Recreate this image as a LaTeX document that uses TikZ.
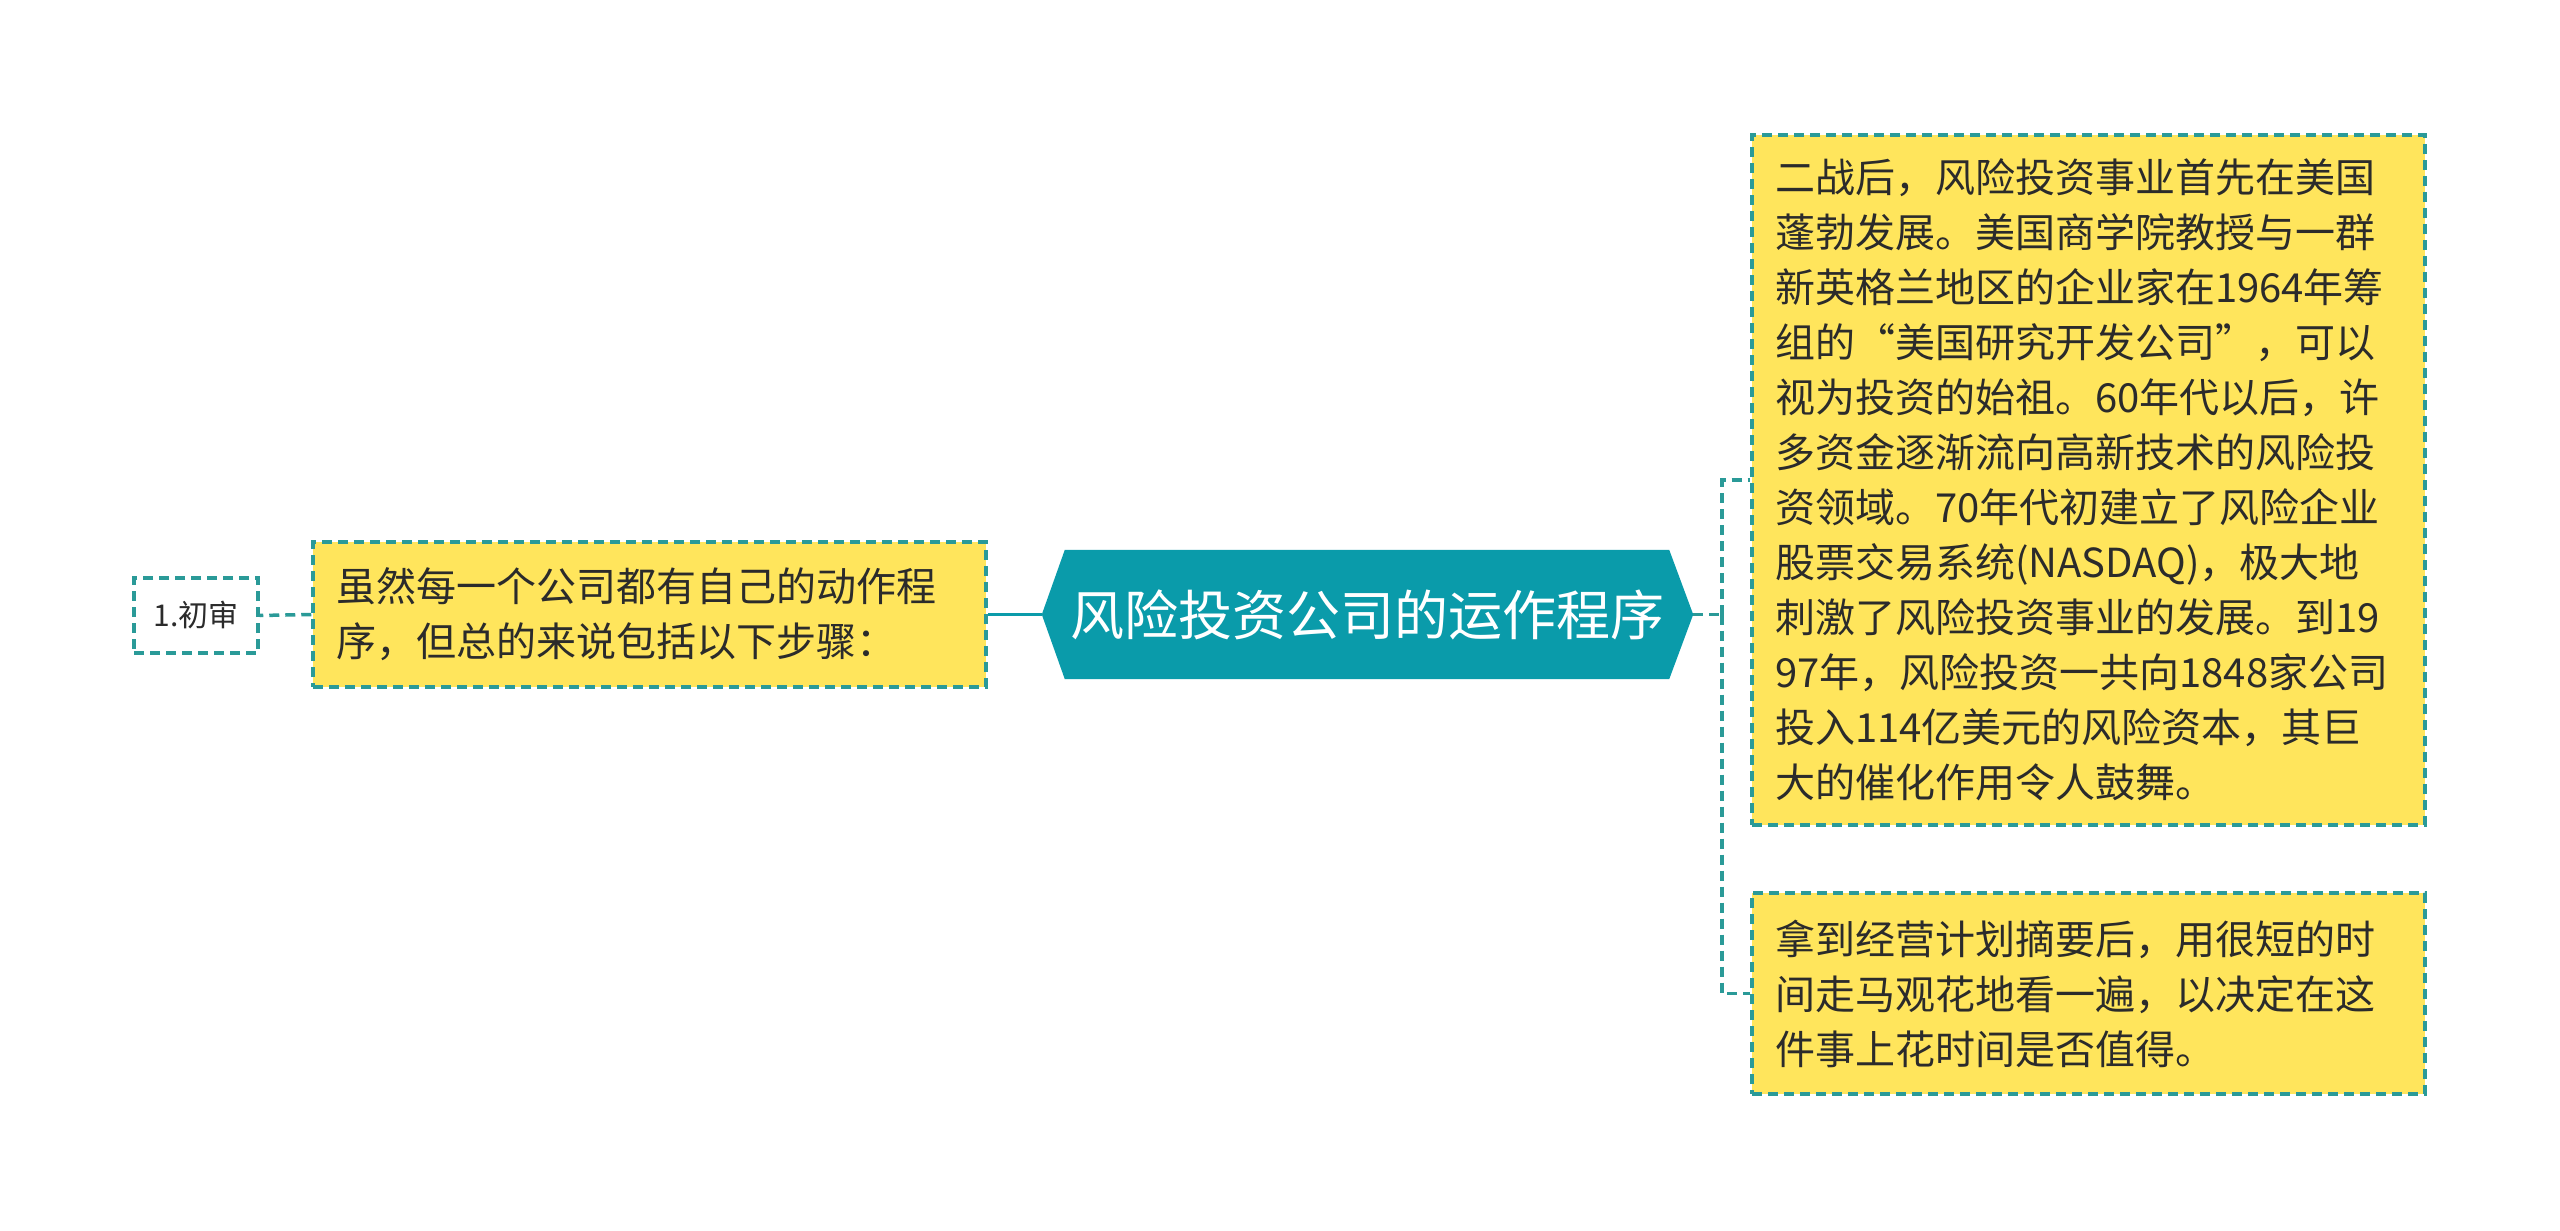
\documentclass[tikz,border=0pt]{standalone}
\usepackage{fontspec}
\setmainfont{Noto Sans CJK SC}
\usetikzlibrary{backgrounds}
\definecolor{teal1}{HTML}{0A9BAA}
\definecolor{dashc}{HTML}{2A9A98}
\definecolor{yel}{HTML}{FFE55C}
\definecolor{txt}{HTML}{2B2B2B}
\begin{document}
\begin{tikzpicture}[x=1pt,y=-1pt,
  box/.style={draw=dashc, line width=3.5pt, dash pattern=on 10pt off 6pt, fill=yel, inner sep=0pt,
    font=\fontsize{40}{55}\selectfont, text=txt, align=left, text width=627pt},
  conn/.style={draw=dashc, line width=3.5pt, dash pattern=on 10pt off 6pt}]
\useasboundingbox (0,0) rectangle (2560,1231);

% root
\node[font=\fontsize{54}{60}\selectfont, text=white, minimum width=604pt, minimum height=129pt, inner sep=0pt] (root) at (1367,614.5) {风险投资公司的运作程序};
\coordinate (rootL) at ([xshift=-23pt]root.west);
\coordinate (rootR) at ([xshift=24pt]root.east);
\begin{scope}[on background layer]
\fill[white] (0,0) rectangle (2560,1231);
\fill[teal1] (root.north west) -- (root.north east) -- (rootR) -- (root.south east) -- (root.south west) -- (rootL) -- cycle;
\end{scope}

% left
\node[box, minimum width=673pt, minimum height=145pt] (lbox) at (649.5,614.5)
  {虽然每一个公司都有自己的动作程\\序，但总的来说包括以下步骤：};
\node[box, fill=white, font=\fontsize{30}{34}\selectfont, text width=, align=center, minimum width=124pt, minimum height=75pt] (cs) at (196,615.5) {1.初审};

% right
\node[box, minimum width=673pt, minimum height=690pt] (b1) at (2088.5,480)
  {二战后，风险投资事业首先在美国\\蓬勃发展。美国商学院教授与一群\\新英格兰地区的企业家在1964年筹\\组的“美国研究开发公司”，可以\\视为投资的始祖。60年代以后，许\\多资金逐渐流向高新技术的风险投\\资领域。70年代初建立了风险企业\\股票交易系统(NASDAQ)，极大地\\刺激了风险投资事业的发展。到19\\97年，风险投资一共向1848家公司\\投入114亿美元的风险资本，其巨\\大的催化作用令人鼓舞。};
\node[box, minimum width=673pt, minimum height=201pt] (b2) at (2088.5,993.5)
  {拿到经营计划摘要后，用很短的时\\间走马观花地看一遍，以决定在这\\件事上花时间是否值得。};

% connectors
\draw[teal1, line width=3.5pt] (rootL) -- (lbox.east);
\draw[conn] (lbox.west) -- (cs.east);
\draw[conn] (rootR) -- ++(29,0) coordinate (jn);
\draw[conn] (jn) |- (b1.west);
\draw[conn] (jn) |- (b2.west);
\end{tikzpicture}
\end{document}
